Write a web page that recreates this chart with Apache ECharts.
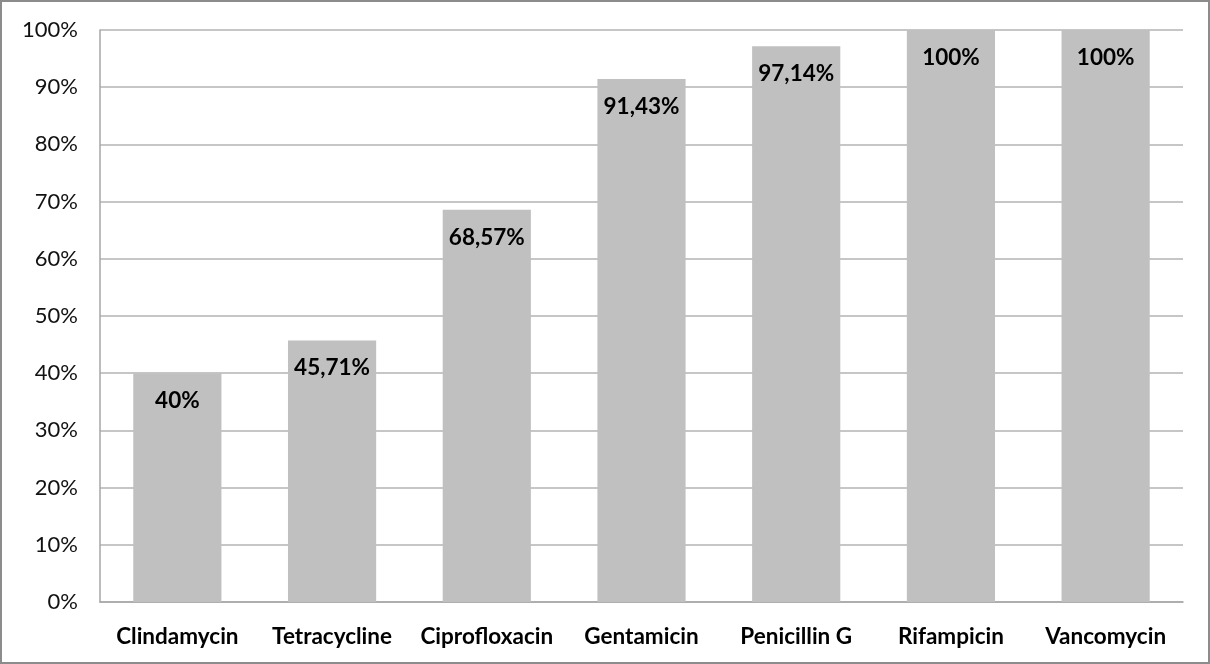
<!DOCTYPE html>
<html>
<head>
<meta charset="utf-8">
<script src="https://cdn.jsdelivr.net/npm/echarts@6/dist/echarts.min.js"></script>
<style>
  html, body { margin: 0; padding: 0; background: #fff; }
  #chart { width: 1206px; height: 660px; border: 2px solid #8c8c8c; }
</style>
</head>
<body>
<div id="chart"></div>
<script>
// Antibiotic names and resistance percentages
const drugs = ['Clindamycin', 'Tetracycline', 'Ciprofloxacin', 'Gentamicin', 'Penicillin G', 'Rifampicin', 'Vancomycin'];
const percents = [40, 45.71, 68.57, 91.43, 97.14, 100, 100];
const barLabels = ['40%', '45,71%', '68,57%', '91,43%', '97,14%', '100%', '100%'];

const chart = echarts.init(document.getElementById('chart'));

chart.setOption({
  animation: false,
  grid: { left: 98, right: 25, top: 28, bottom: 60 },
  xAxis: {
    type: 'category',
    data: drugs,
    axisLine: { lineStyle: { color: '#a6a6a6', width: 1.5 } },
    axisTick: { show: false },
    axisLabel: {
      color: '#000',
      fontFamily: 'Lato, "Open Sans", sans-serif',
      fontWeight: 'bold',
      fontSize: 22.5,
      margin: 23,
      interval: 0
    }
  },
  yAxis: {
    type: 'value',
    min: 0,
    max: 100,
    interval: 10,
    axisLine: { show: true, lineStyle: { color: '#a6a6a6', width: 1.5 } },
    axisTick: { show: false },
    splitLine: { lineStyle: { color: '#b3b3b3', width: 1.5 } },
    axisLabel: {
      color: '#111',
      fontFamily: 'Lato, "Open Sans", sans-serif',
      fontSize: 22,
      margin: 22,
      formatter: v => v + '%'
    }
  },
  series: [{
    type: 'bar',
    data: percents,
    barCategoryGap: '43%',
    itemStyle: { color: '#c0c0c0' },
    label: {
      show: true,
      position: 'insideTop',
      distance: 16,
      color: '#000',
      fontFamily: 'Lato, "Open Sans", sans-serif',
      fontWeight: 'bold',
      fontSize: 22.5,
      formatter: p => barLabels[p.dataIndex]
    }
  }]
});
</script>
</body>
</html>
